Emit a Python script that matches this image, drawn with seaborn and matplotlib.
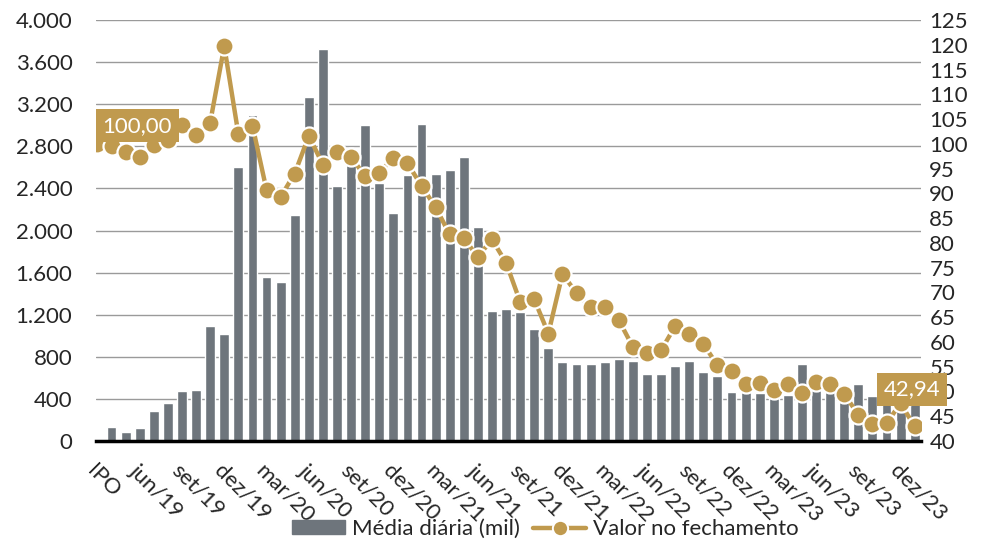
import numpy as np
import pandas as pd
import matplotlib
matplotlib.use('Agg')
import matplotlib.pyplot as plt
import seaborn as sns
from matplotlib.patches import Patch
from matplotlib.lines import Line2D

# Monthly series (bars start one month after the IPO point)
tick_labels = ['IPO', 'jun/19', 'set/19', 'dez/19', 'mar/20', 'jun/20', 'set/20',
               'dez/20', 'mar/21', 'jun/21', 'set/21', 'dez/21', 'mar/22', 'jun/22',
               'set/22', 'dez/22', 'mar/23', 'jun/23', 'set/23', 'dez/23']

media_diaria = [130, 86, 124, 288, 358, 472, 485, 1093, 1017, 2606,
                3100, 1555, 1510, 2144, 3265, 3721, 2424, 2620, 3002, 2448,
                2169, 2527, 3008, 2540, 2575, 2695, 2033, 1232, 1257, 1226,
                1061, 881, 751, 729, 729, 751, 779, 763, 637, 637,
                716, 760, 660, 618, 469, 469, 453, 405, 437, 731,
                488, 475, 440, 538, 428, 420, 380, 350]

valor_fechamento = [100.0, 99.6, 98.3, 97.4, 99.8, 100.8, 103.9, 101.8, 104.3, 119.7,
                    102.0, 103.7, 90.7, 89.3, 94.0, 101.6, 95.8, 98.4, 97.3, 93.5,
                    94.1, 97.2, 96.1, 91.5, 87.2, 81.7, 80.9, 77.2, 80.7, 76.0,
                    68.1, 68.6, 61.7, 73.7, 69.9, 67.0, 67.0, 64.4, 59.0, 57.7,
                    58.3, 63.2, 61.6, 59.6, 55.3, 54.2, 51.6, 51.8, 50.4, 51.6,
                    49.6, 52.0, 51.6, 49.5, 45.3, 43.4, 43.6, 47.6, 42.94]

GRAY = '#6E757C'
GOLD = '#C09A4E'

sns.set_style('white')
plt.rcParams['font.family'] = ['Lato', 'DejaVu Sans']
FS = 16

df_bar = pd.DataFrame({'pos': np.arange(1, len(media_diaria) + 1), 'media': media_diaria})
df_line = pd.DataFrame({'pos': np.arange(len(valor_fechamento)), 'valor': valor_fechamento})

fig, ax = plt.subplots(figsize=(9.84, 5.51), dpi=100)
fig.subplots_adjust(left=0.0976, right=0.936, bottom=0.1996, top=0.9637)

sns.barplot(data=df_bar, x='pos', y='media', native_scale=True, color=GRAY,
            saturation=1, width=0.7, errorbar=None, ax=ax, zorder=2)
ax.set_ylim(0, 4000)
ax.set_yticks(np.arange(0, 4001, 400))
ax.set_yticklabels([f'{v:,}'.replace(',', '.') for v in range(0, 4001, 400)])
ax.set_xlim(-0.1, 58.45)
ax.set_xticks(np.arange(0, 58, 3))
ax.set_xticklabels(tick_labels, rotation=-45, ha='left', va='top', rotation_mode='anchor')
ax.yaxis.grid(True, color='#9a9a9a', lw=1)
ax.set_axisbelow(True)
ax.set_xlabel('')
ax.set_ylabel('')
for s in ['top', 'right', 'left']:
    ax.spines[s].set_visible(False)
ax.spines['bottom'].set_color('black')
ax.spines['bottom'].set_linewidth(2.5)
ax.tick_params(axis='y', length=0, pad=17, labelsize=FS)
ax.tick_params(axis='x', length=0, pad=14, labelsize=FS)

ax2 = ax.twinx()
sns.lineplot(data=df_line, x='pos', y='valor', ax=ax2, color=GOLD, lw=3.2,
             marker='o', markersize=13, markeredgecolor='white', markeredgewidth=1.6)
ax2.set_ylim(40, 125)
ax2.set_yticks(np.arange(40, 126, 5))
ax2.set_ylabel('')
ax2.set_xlim(-0.1, 58.45)
for s in ax2.spines.values():
    s.set_visible(False)
ax2.tick_params(axis='y', length=0, pad=6, labelsize=FS)

# Value boxes at start and end of the line
ax2.annotate('100,00', xy=(0, valor_fechamento[0]), xytext=(40, 18),
             textcoords='offset pixels', ha='center', va='center', color='white',
             fontsize=FS, annotation_clip=False, zorder=10,
             bbox=dict(boxstyle='square,pad=0.3', fc=GOLD, ec='none'))
ax2.annotate('42,94', xy=(58, valor_fechamento[-1]), xytext=(-3, 37),
             textcoords='offset pixels', ha='center', va='center', color='white',
             fontsize=FS, annotation_clip=False, zorder=10,
             bbox=dict(boxstyle='square,pad=0.3', fc=GOLD, ec='none'))

handles = [Patch(color=GRAY),
           Line2D([0], [0], color=GOLD, lw=3.2, marker='o', markersize=11,
                  markeredgecolor='white', markeredgewidth=1.4)]
fig.legend(handles, ['Média diária (mil)', 'Valor no fechamento'], loc='lower center',
           bbox_to_anchor=(0.554, -0.015), ncol=2, frameon=False, fontsize=FS,
           handlelength=2.4, handleheight=0.6, columnspacing=0.6, handletextpad=0.3)

fig.savefig('out.png', dpi=100)
